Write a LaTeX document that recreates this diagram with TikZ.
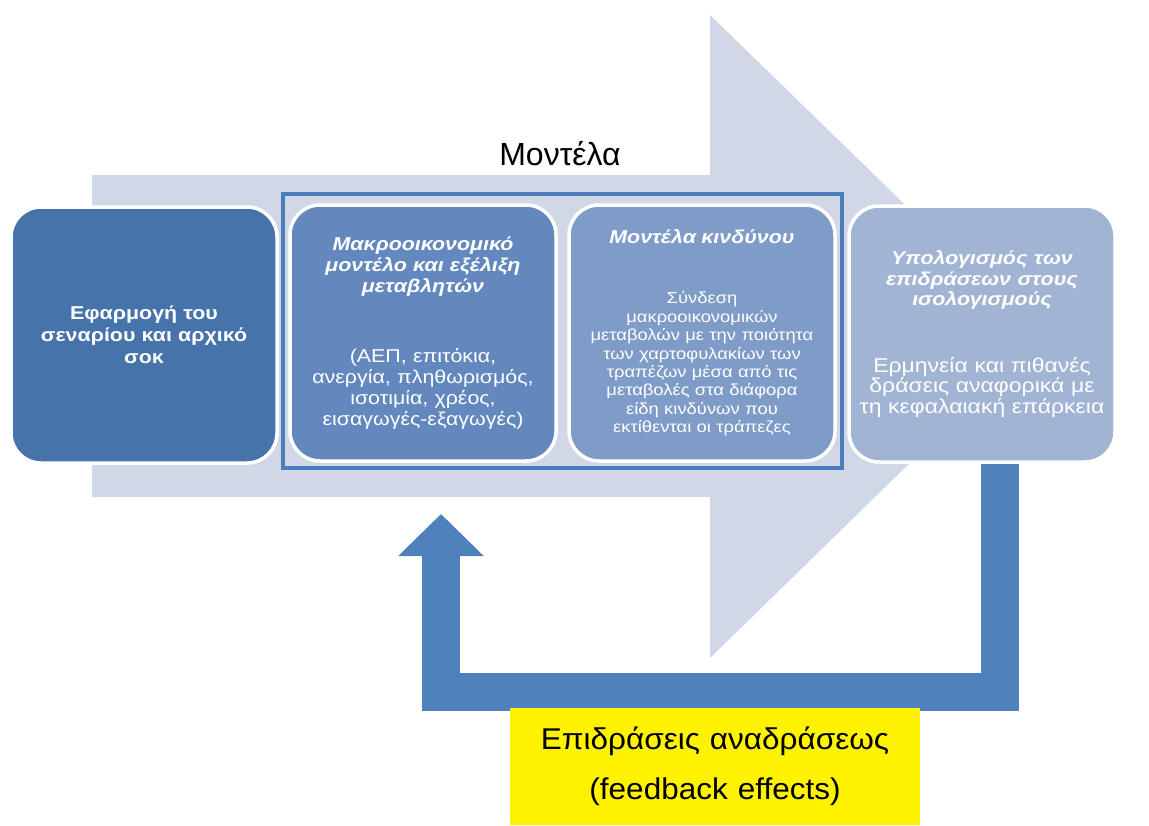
\documentclass[tikz,border=0pt]{standalone}
\usepackage{fontspec}
\setmainfont{Liberation Sans}
\newfontfamily\widesans[FakeStretch=1.15]{Liberation Sans}
\newfontfamily\notesans[FakeStretch=1.05]{Liberation Sans}
\usepackage{tikz}
\usepackage{xcolor}
\usetikzlibrary{arrows.meta, positioning}
\definecolor{arrowbg}{RGB}{208, 216, 232}
\definecolor{shockblue}{RGB}{70, 116, 170}
\definecolor{macroblue}{RGB}{99, 136, 190}
\definecolor{riskblue}{RGB}{127, 156, 200}
\definecolor{impactblue}{RGB}{162, 180, 212}
\definecolor{framblue}{RGB}{74, 125, 186}
\definecolor{fbblue}{RGB}{79, 129, 189}

\begin{document}
\begin{tikzpicture}[x=1pt,y=-1pt,
          stage/.style={draw=white,line width=3.5pt,rounded corners=30pt,
                      text=white,text width=258pt,align=center,inner sep=4pt,
                      minimum width=266pt,minimum height=256pt},
          fback/.style={draw=fbblue,line width=38pt,
                      -{Triangle[width=83pt,length=42pt]}}]
        \useasboundingbox[fill=white] (0,0) rectangle (1149,825);
        % background process arrow
        \fill[arrowbg] (92,175) -- (710,175) -- (710,15) -- (1040,336)
              -- (710,658) -- (710,497) -- (92,497) -- cycle;
        \node[font=\fontsize{32}{38}\selectfont,anchor=base](models) at (560,165){Μοντέλα};
        \coordinate (fbtip) at (441,514);
        \node[stage,fill=shockblue,font=\widesans\fontsize{18.6}{22}\selectfont\bfseries](shock) at (144,335)
              {Εφαρμογή του\\σεναρίου και αρχικό\\σοκ};
        \node[stage,fill=macroblue,font=\widesans\fontsize{18.6}{21}\selectfont](macro) at (423,333)
              {{\bfseries\itshape Μακροοικονομικό\\μοντέλο και εξέλιξη\\μεταβλητών}\\[49pt]
               (ΑΕΠ, επιτόκια,\\ανεργία, πληθωρισμός,\\ισοτιμία, χρέος,\\εισαγωγές-εξαγωγές)};
        \node[stage,fill=riskblue,font=\widesans\fontsize{16}{18.4}\selectfont](risk) at (702,333)
              {{\fontsize{18.6}{18.4}\selectfont\bfseries\itshape Μοντέλα κινδύνου}\\[41.6pt]
               Σύνδεση\\μακροοικονομικών\\μεταβολών με την ποιότητα\\των χαρτοφυλακίων των\\
               τραπέζων μέσα από τις\\μεταβολές στα διάφορα\\είδη κινδύνων που\\εκτίθενται οι τράπεζες};
        \node[stage,fill=impactblue,font=\widesans\fontsize{20}{20.5}\selectfont](impact) at (982,334)
              {{\fontsize{18.6}{20.5}\selectfont\bfseries\itshape Υπολογισμός των\\επιδράσεων στους\\ισολογισμούς}\\[46pt]
               Ερμηνεία και πιθανές\\δράσεις αναφορικά με\\τη κεφαλαιακή επάρκεια};
        \draw[framblue,line width=3.5pt](283,194) rectangle (842,468);
        \draw[fback]([xshift=18pt]impact.south) -- ++(0,228) -| (fbtip);
        \node[fill=yellow,minimum width=410pt,minimum height=117pt,text width=400pt,
              align=center,font=\notesans\fontsize{30}{50}\selectfont](fbnote) at (715,766.5)
              {Επιδράσεις αναδράσεως\\(feedback effects)};
      \end{tikzpicture}
\end{document}
